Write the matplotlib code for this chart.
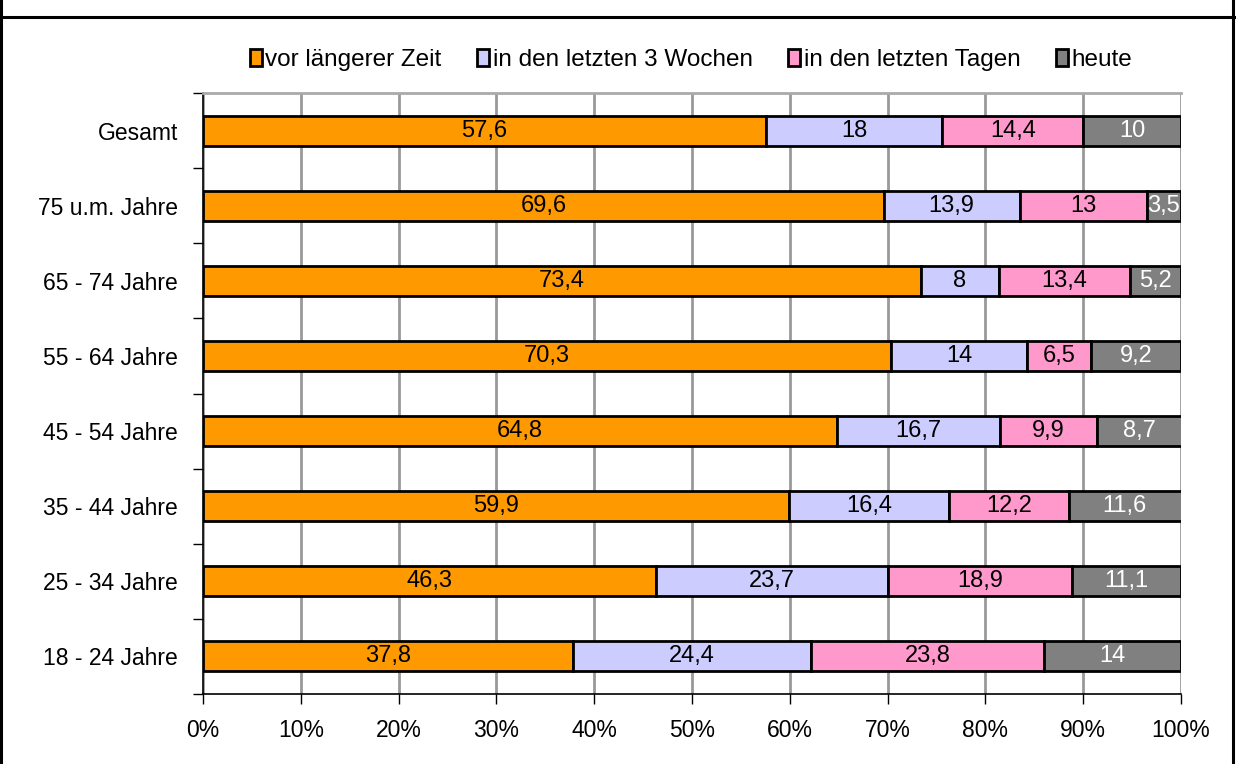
import matplotlib
matplotlib.use("Agg")
import matplotlib.pyplot as plt
from matplotlib.lines import Line2D
import numpy as np

plt.rcParams['font.family'] = ['Liberation Sans', 'DejaVu Sans']

categories = ["Gesamt", "75 u.m. Jahre", "65 - 74 Jahre", "55 - 64 Jahre",
              "45 - 54 Jahre", "35 - 44 Jahre", "25 - 34 Jahre", "18 - 24 Jahre"]
series_names = ["vor längerer Zeit", "in den letzten 3 Wochen", "in den letzten Tagen", "heute"]
vor_laengerer_zeit = [57.6, 69.6, 73.4, 70.3, 64.8, 59.9, 46.3, 37.8]
letzte_3_wochen = [18, 13.9, 8, 14, 16.7, 16.4, 23.7, 24.4]
letzte_tage = [14.4, 13, 13.4, 6.5, 9.9, 12.2, 18.9, 23.8]
heute = [10, 3.5, 5.2, 9.2, 8.7, 11.6, 11.1, 14]
colors = ["#FF9900", "#CCCCFF", "#FF99CC", "#808080"]
text_colors = ["black", "black", "black", "white"]
xtick_labels = ["0%", "10%", "20%", "30%", "40%", "50%", "60%", "70%", "80%", "90%", "100%"]

W, H = 1236, 764
fig = plt.figure(figsize=(W / 100, H / 100), dpi=100)
ax = fig.add_axes([203 / W, 1 - 694 / H, (1181 - 203) / W, (694 - 93) / H])

series = [vor_laengerer_zeit, letzte_3_wochen, letzte_tage, heute]
n = len(categories)
y = np.arange(n)[::-1]
left = np.zeros(n)
handles = []
for vals, name, c, tc in zip(series, series_names, colors, text_colors):
    vals = np.array(vals, dtype=float)
    bars = ax.barh(y, vals, left=left, height=0.4, color=c, edgecolor="black",
                   linewidth=2.0, label=name, zorder=3)
    labels = [("%g" % v).replace(".", ",") for v in vals]
    ax.bar_label(bars, labels=labels, label_type="center", color=tc, fontsize=17)
    left += vals
    handles.append(bars)

ax.set_xlim(0, 100)
ax.set_ylim(-0.5, n - 0.5)
ax.set_xticks(np.arange(0, 101, 10))
ax.set_xticklabels(xtick_labels, fontsize=16.5)
ax.set_yticks(y)
ax.set_yticklabels(categories, fontsize=16.5)
ax.tick_params(axis="y", length=0, pad=18)
ax.set_yticks(np.arange(-0.5, n, 1), minor=True)
ax.tick_params(axis="y", which="minor", length=7, width=1, color="black", direction="out")
ax.tick_params(axis="x", length=7, width=1, direction="out", pad=11)
ax.grid(axis="x", color="#999999", linewidth=2, zorder=0)
ax.set_axisbelow(True)
for s in ["left", "bottom"]:
    ax.spines[s].set_color("black")
    ax.spines[s].set_linewidth(1.2)
ax.spines["right"].set_visible(False)
ax.spines["top"].set_color("#AAAAAA")
ax.spines["top"].set_linewidth(2)

leg = fig.legend(handles=handles, labels=series_names, loc="center",
                 bbox_to_anchor=(691 / W, 1 - 60 / H), ncol=4, frameon=False,
                 fontsize=17.5, handlelength=0.5, handleheight=0.65,
                 handletextpad=0.15, columnspacing=1.45)

# outer frame (cropped chart border)
lw = 2.2
fig.add_artist(Line2D([0, 1], [1 - 17 / H, 1 - 17 / H], transform=fig.transFigure, color="black", lw=lw))
fig.add_artist(Line2D([1.5 / W, 1.5 / W], [0, 1], transform=fig.transFigure, color="black", lw=lw))
fig.add_artist(Line2D([1233 / W, 1233 / W], [0, 1], transform=fig.transFigure, color="black", lw=lw))

fig.savefig("out.png", dpi=100)
